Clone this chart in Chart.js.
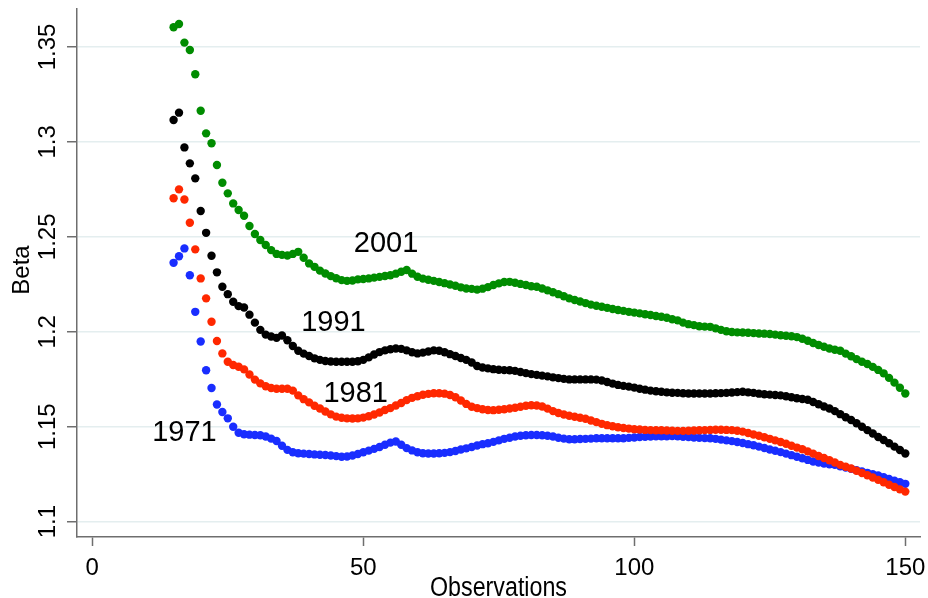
<!DOCTYPE html>
<html>
<head>
<meta charset="utf-8">
<script src="https://cdn.jsdelivr.net/npm/chart.js@4.4.1/dist/chart.umd.min.js"></script>
<style>
html,body{margin:0;padding:0;background:#fff;}
#wrap{width:928px;height:598px;position:relative;}
</style>
</head>
<body>
<div id="wrap"><canvas id="c" width="928" height="598"></canvas></div>
<script>
// Observations 15..150
const obs = [];
for (let i = 15; i <= 150; i++) obs.push(i);

const beta2001 = [
1.3604,1.3621,1.3523,1.3484,1.3356,1.3164,1.3045,1.2993,1.2878,1.2785,
1.2729,1.2676,1.2641,1.2611,1.2557,1.2515,1.2483,1.2457,1.2430,1.2410,
1.2405,1.2402,1.2410,1.2421,1.2390,1.2360,1.2342,1.2322,1.2307,1.2293,
1.2282,1.2272,1.2268,1.2270,1.2276,1.2278,1.2281,1.2285,1.2289,1.2294,
1.2298,1.2306,1.2316,1.2325,1.2306,1.2290,1.2280,1.2274,1.2268,1.2262,
1.2256,1.2249,1.2242,1.2234,1.2228,1.2226,1.2222,1.2227,1.2235,1.2246,
1.2255,1.2262,1.2263,1.2258,1.2252,1.2246,1.2240,1.2237,1.2228,1.2218,
1.2208,1.2198,1.2187,1.2176,1.2167,1.2159,1.2151,1.2143,1.2137,1.2132,
1.2126,1.2120,1.2115,1.2110,1.2105,1.2101,1.2097,1.2092,1.2088,1.2083,
1.2079,1.2074,1.2066,1.2060,1.2048,1.2040,1.2035,1.2029,1.2027,1.2026,
1.2018,1.2010,1.2003,1.1999,1.1997,1.1996,1.1995,1.1993,1.1991,1.1990,
1.1988,1.1985,1.1982,1.1979,1.1976,1.1972,1.1963,1.1953,1.1941,1.1930,
1.1921,1.1912,1.1905,1.1900,1.1885,1.1871,1.1856,1.1842,1.1830,1.1815,
1.1799,1.1781,1.1757,1.1732,1.1705,1.1675];

const beta1991 = [
1.3115,1.3154,1.2971,1.2887,1.2808,1.2636,1.2521,1.2400,1.2313,1.2237,
1.2198,1.2158,1.2135,1.2128,1.2090,1.2048,1.2010,1.1985,1.1975,1.1968,
1.1980,1.1955,1.1925,1.1900,1.1885,1.1872,1.1860,1.1852,1.1846,1.1843,
1.1842,1.1842,1.1842,1.1842,1.1845,1.1852,1.1865,1.1880,1.1893,1.1902,
1.1908,1.1912,1.1910,1.1902,1.1892,1.1886,1.1890,1.1896,1.1902,1.1900,
1.1892,1.1882,1.1872,1.1862,1.1852,1.1838,1.1820,1.1812,1.1807,1.1803,
1.1800,1.1798,1.1797,1.1794,1.1788,1.1782,1.1777,1.1773,1.1769,1.1765,
1.1760,1.1756,1.1752,1.1749,1.1749,1.1749,1.1749,1.1749,1.1748,1.1743,
1.1735,1.1727,1.1720,1.1715,1.1711,1.1706,1.1700,1.1695,1.1690,1.1687,
1.1684,1.1681,1.1679,1.1678,1.1676,1.1675,1.1675,1.1675,1.1675,1.1675,
1.1676,1.1677,1.1678,1.1680,1.1682,1.1684,1.1681,1.1678,1.1674,1.1671,
1.1669,1.1667,1.1665,1.1660,1.1655,1.1650,1.1646,1.1642,1.1630,1.1618,
1.1606,1.1596,1.1582,1.1566,1.1550,1.1535,1.1518,1.1500,1.1482,1.1464,
1.1446,1.1430,1.1413,1.1395,1.1377,1.1359];

const beta1981 = [
1.2703,1.2750,1.2697,1.2574,1.2434,1.2281,1.2176,1.2053,1.1951,1.1886,
1.1842,1.1825,1.1816,1.1802,1.1775,1.1748,1.1728,1.1713,1.1704,1.1700,
1.1700,1.1700,1.1690,1.1665,1.1645,1.1628,1.1610,1.1596,1.1580,1.1565,
1.1553,1.1547,1.1544,1.1543,1.1544,1.1548,1.1555,1.1564,1.1575,1.1588,
1.1598,1.1612,1.1625,1.1640,1.1652,1.1660,1.1668,1.1673,1.1676,1.1676,
1.1674,1.1667,1.1655,1.1638,1.1620,1.1605,1.1598,1.1592,1.1588,1.1587,
1.1589,1.1592,1.1596,1.1600,1.1605,1.1610,1.1613,1.1612,1.1606,1.1595,
1.1582,1.1572,1.1564,1.1558,1.1552,1.1547,1.1542,1.1533,1.1524,1.1515,
1.1508,1.1502,1.1497,1.1493,1.1490,1.1487,1.1485,1.1483,1.1482,1.1481,
1.1481,1.1480,1.1479,1.1478,1.1478,1.1479,1.1480,1.1481,1.1482,1.1483,
1.1484,1.1484,1.1483,1.1482,1.1479,1.1474,1.1467,1.1459,1.1452,1.1444,
1.1436,1.1428,1.1419,1.1410,1.1400,1.1390,1.1381,1.1370,1.1358,1.1346,
1.1335,1.1323,1.1311,1.1299,1.1289,1.1280,1.1268,1.1256,1.1244,1.1232,
1.1220,1.1207,1.1194,1.1182,1.1170,1.1158];

const beta1971 = [
1.2363,1.2398,1.2439,1.2298,1.2105,1.1949,1.1797,1.1704,1.1617,1.1577,
1.1544,1.1500,1.1468,1.1460,1.1458,1.1456,1.1455,1.1448,1.1437,1.1425,
1.1400,1.1378,1.1365,1.1360,1.1358,1.1356,1.1354,1.1352,1.1351,1.1348,
1.1345,1.1342,1.1343,1.1348,1.1356,1.1365,1.1374,1.1383,1.1393,1.1405,
1.1416,1.1422,1.1405,1.1387,1.1375,1.1365,1.1360,1.1359,1.1359,1.1360,
1.1362,1.1366,1.1372,1.1380,1.1386,1.1393,1.1401,1.1408,1.1413,1.1420,
1.1428,1.1436,1.1442,1.1448,1.1452,1.1455,1.1456,1.1456,1.1455,1.1452,
1.1448,1.1442,1.1437,1.1434,1.1434,1.1435,1.1436,1.1437,1.1439,1.1439,
1.1439,1.1439,1.1439,1.1439,1.1441,1.1443,1.1446,1.1447,1.1448,1.1449,
1.1450,1.1450,1.1451,1.1449,1.1447,1.1445,1.1443,1.1441,1.1440,1.1439,
1.1436,1.1432,1.1428,1.1424,1.1419,1.1414,1.1408,1.1402,1.1395,1.1388,
1.1380,1.1373,1.1366,1.1358,1.1350,1.1342,1.1334,1.1325,1.1317,1.1311,
1.1306,1.1302,1.1299,1.1292,1.1285,1.1278,1.1271,1.1264,1.1257,1.1250,
1.1243,1.1234,1.1225,1.1216,1.1207,1.1199];

const xTicks = [0, 50, 100, 150];
const yTicks = [1.1, 1.15, 1.2, 1.25, 1.3, 1.35];
const yTickLabels = ['1.1', '1.15', '1.2', '1.25', '1.3', '1.35'];

// curve labels (data coordinates of text centre)
const seriesLabels = ['2001', '1991', '1981', '1971'];
const seriesLabelX = [54.2, 44.5, 48.6, 17.0];
const seriesLabelY = [1.2462, 1.2048, 1.1670, 1.1468];

const colors = ['rgb(0,140,0)', 'rgb(0,0,0)', 'rgb(255,40,0)', 'rgb(25,45,255)'];
const seriesData = [beta2001, beta1991, beta1981, beta1971];

const toPts = arr => arr.map((v, i) => ({x: obs[i], y: v}));

const AXIS = '#6e6e6e';
const GRID = '#e4eeef';
const FONT = '"Liberation Sans", Arial, Helvetica, sans-serif';

const textPlugin = {
  id: 'texts',
  afterDraw(chart) {
    const ctx = chart.ctx;
    const xs = chart.scales.x, ys = chart.scales.y;
    const ca = chart.chartArea;
    ctx.save();
    ctx.fillStyle = '#000';
    // x tick labels
    ctx.font = '24px ' + FONT;
    ctx.textAlign = 'center';
    ctx.textBaseline = 'alphabetic';
    xTicks.forEach(v => {
      ctx.fillText(String(v), xs.getPixelForValue(v), ca.bottom + 38);
    });
    // y tick labels, rotated
    yTicks.forEach((v, i) => {
      ctx.save();
      ctx.translate(ca.left - 22, ys.getPixelForValue(v));
      ctx.rotate(-Math.PI / 2);
      ctx.fillText(yTickLabels[i], 0, 0);
      ctx.restore();
    });
    // y title
    ctx.save();
    ctx.translate(28.5, (ca.top + ca.bottom) / 2 - 3);
    ctx.rotate(-Math.PI / 2);
    ctx.font = '24px ' + FONT;
    ctx.fillText('Beta', 0, 0);
    ctx.restore();
    // x title
    ctx.save();
    ctx.font = '27px ' + FONT;
    const w = ctx.measureText('Observations').width;
    ctx.translate((ca.left + ca.right) / 2, 596);
    ctx.scale(137 / w, 1);
    ctx.fillText('Observations', 0, 0);
    ctx.restore();
    // series labels
    ctx.font = '29px ' + FONT;
    ctx.textBaseline = 'middle';
    seriesLabels.forEach((t, i) => {
      ctx.fillText(t, xs.getPixelForValue(seriesLabelX[i]), ys.getPixelForValue(seriesLabelY[i]));
    });
    ctx.restore();
  }
};

new Chart(document.getElementById('c'), {
  type: 'scatter',
  data: {
    datasets: seriesLabels.map((name, i) => ({
      label: name,
      data: toPts(seriesData[i]),
      backgroundColor: colors[i],
      borderColor: colors[i],
      pointRadius: 4.2,
      pointBorderWidth: 0,
      pointHoverRadius: 4.2,
      showLine: false
    }))
  },
  options: {
    responsive: false,
    animation: false,
    devicePixelRatio: 1,
    layout: {padding: {left: 0, right: 8, top: 9, bottom: 0}},
    plugins: {legend: {display: false}, tooltip: {enabled: false}},
    events: [],
    scales: {
      x: {
        type: 'linear',
        min: -2.82,
        max: 152.71,
        afterBuildTicks: s => { s.ticks = xTicks.map(v => ({value: v})); },
        afterFit: s => { s.height = 61; },
        ticks: {display: false},
        grid: {drawOnChartArea: false, drawTicks: true, tickLength: 9, tickColor: AXIS, tickWidth: 1.5},
        border: {display: true, color: AXIS, width: 1.5}
      },
      y: {
        type: 'linear',
        min: 1.0919,
        max: 1.3700,
        afterBuildTicks: s => { s.ticks = yTicks.map(v => ({value: v})); },
        afterFit: s => { s.width = 77; },
        ticks: {display: false},
        grid: {drawOnChartArea: true, color: GRID, lineWidth: 1.5, drawTicks: true, tickLength: 10, tickColor: AXIS, tickWidth: 1.5},
        border: {display: true, color: AXIS, width: 1.5}
      }
    }
  },
  plugins: [textPlugin]
});
</script>
</body>
</html>
